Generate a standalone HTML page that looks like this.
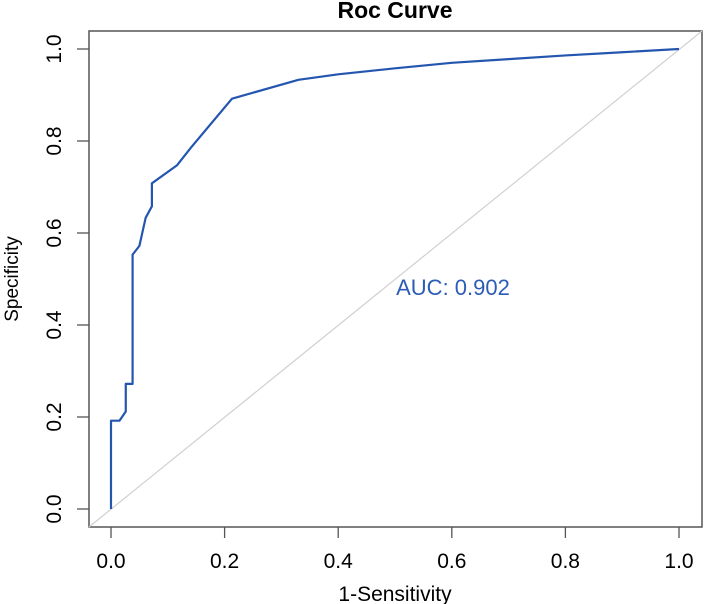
<!DOCTYPE html>
<html><head><meta charset="utf-8"><style>
body{margin:0;background:#fff;}
svg{display:block;font-family:"Liberation Sans",Arial,sans-serif;}
</style></head><body>
<svg id="chart" width="704" height="604" xmlns="http://www.w3.org/2000/svg">
<text x="395" y="18" text-anchor="middle" font-size="23" font-weight="bold">Roc Curve</text>
<rect x="89" y="31" width="613" height="496" fill="none" stroke="#555" stroke-width="1.5"/>
<g id="axes"></g>
<line x1="89" y1="527" x2="702" y2="31" stroke="#d0d0d0" stroke-width="1.2"/>
<polyline id="roc" fill="none" stroke="#2456b0" stroke-width="2.2" stroke-linejoin="round"/>
<text x="453" y="295" text-anchor="middle" font-size="22" fill="#2c5cb5">AUC: 0.902</text>
<text x="395" y="601" text-anchor="middle" font-size="21">1-Sensitivity</text>
<text transform="translate(18,279) rotate(-90)" text-anchor="middle" font-size="19">Specificity</text>
</svg>
<script>
const fpr = [0,0,0.015,0.026,0.026,0.038,0.038,0.05,0.061,0.072,0.072,0.116,0.141,0.213,0.33,0.4,0.5,0.6,0.7,0.8,0.9,1];
const tpr = [0,0.192,0.192,0.212,0.272,0.272,0.553,0.572,0.633,0.658,0.708,0.747,0.786,0.892,0.933,0.945,0.958,0.97,0.978,0.986,0.993,1];
const ticks = [0,0.2,0.4,0.6,0.8,1.0];
const tickLabels = ["0.0","0.2","0.4","0.6","0.8","1.0"];
const sx = v => 111 + v*568;
const sy = v => 509 - v*460;
const NS = "http://www.w3.org/2000/svg";
const axes = document.getElementById('axes');
function mk(tag, attrs){const e=document.createElementNS(NS,tag);for(const k in attrs)e.setAttribute(k,attrs[k]);return e;}
ticks.forEach((t,i)=>{
  const xt = mk('line',{x1:sx(t),x2:sx(t),y1:527,y2:538,stroke:'#555','stroke-width':1.3});
  
  
  axes.appendChild(xt);
  const xl = mk('text',{x:sx(t),y:568,'text-anchor':'middle','font-size':21});
  
  
  xl.textContent = tickLabels[i];
  axes.appendChild(xl);
  const yt = mk('line',{x1:77,x2:89,y1:sy(t),y2:sy(t),stroke:'#555','stroke-width':1.3});
  
  
  axes.appendChild(yt);
  const yl = mk('text',{transform:`translate(61,${sy(t)}) rotate(-90)`,'text-anchor':'middle','font-size':21});
  
  
  yl.textContent = tickLabels[i];
  axes.appendChild(yl);
});
document.getElementById('roc').setAttribute('points', fpr.map((f,i)=>sx(f)+','+sy(tpr[i])).join(' '));
</script>
</body></html>
